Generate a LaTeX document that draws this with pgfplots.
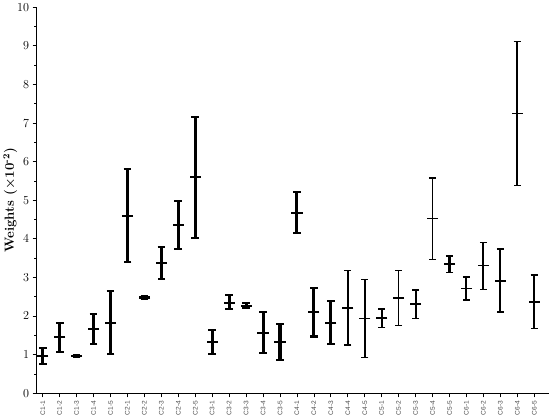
\documentclass[border=0pt]{standalone}
\usepackage{fontspec}
\setsansfont{Liberation Sans}
\usepackage{pgfplots}
\usepackage{pgfplotstable}
\pgfplotsset{compat=1.18}

% x = category index, y = centre, lo/hi = ends of the bar
\pgfplotstableread{
x y lo hi
0 0.97 0.75 1.18
1 1.45 1.08 1.82
2 0.96 0.93 0.99
3 1.66 1.27 2.05
4 1.83 1.02 2.65
5 4.60 3.40 5.80
6 2.48 2.45 2.52
7 3.37 2.95 3.80
8 4.37 3.74 4.99
9 5.60 4.03 7.15
10 1.33 1.02 1.64
11 2.35 2.17 2.55
12 2.27 2.20 2.33
13 1.57 1.03 2.11
14 1.33 0.85 1.80
15 4.68 4.15 5.21
16 2.10 1.47 2.72
17 1.83 1.27 2.39
}\thickdata

\pgfplotstableread{
x y lo hi
22 2.31 1.94 2.67
24 3.35 3.13 3.56
25 2.71 2.41 3.01
26 3.31 2.69 3.91
27 2.90 2.10 3.73
29 2.37 1.68 3.06
}\middata

\pgfplotstableread{
x y lo hi
18 2.21 1.25 3.18
19 1.94 0.93 2.95
20 1.95 1.71 2.18
21 2.47 1.75 3.18
23 4.52 3.46 5.58
28 7.25 5.38 9.12
}\thindata

\begin{document}
\begin{tikzpicture}
\begin{axis}[
  scale only axis,
  width=505pt, height=380pt,
  xmin=-0.36, xmax=29.9,
  ymin=0, ymax=10,
  axis lines=left,
  axis line style={line width=1pt, -},
  ytick={0,...,10},
  minor y tick num=1,
  xtick={0,...,29},
  xticklabels={C1-1,C1-2,C1-3,C1-4,C1-5,C2-1,C2-2,C2-3,C2-4,C2-5,
    C3-1,C3-2,C3-3,C3-4,C3-5,C4-1,C4-2,C4-3,C4-4,C4-5,
    C5-1,C5-2,C5-3,C5-4,C5-5,C6-1,C6-2,C6-3,C6-4,C6-5},
  x tick label style={rotate=90, anchor=east, font=\sffamily\fontsize{6.5}{7}\selectfont, text=black!70},
  y tick label style={font=\fontsize{12}{13}\selectfont},
  tick align=outside,
  major tick length=4pt, minor tick length=2.5pt,
  tick style={black, line width=0.8pt},
  ylabel={\textbf{Weights (×10\textsuperscript{-2})}},
  ylabel style={font=\fontsize{13}{15}\selectfont},
  ylabel shift=-7pt,
  error bars/error mark=-,
]
\addplot[only marks, mark=-, mark size=5.5pt, line width=2pt,
  error bars/.cd, y dir=both, y explicit,
  error mark options={rotate=90, mark size=3.8pt, line width=2pt},
  error bar style={line width=3pt}]
  table[x=x, y=y, y error plus expr=\thisrow{hi}-\thisrow{y},
        y error minus expr=\thisrow{y}-\thisrow{lo}] {\thickdata};
\addplot[only marks, mark=-, mark size=5.5pt, line width=1.6pt,
  error bars/.cd, y dir=both, y explicit,
  error mark options={rotate=90, mark size=3.5pt, line width=1.6pt},
  error bar style={line width=2pt}]
  table[x=x, y=y, y error plus expr=\thisrow{hi}-\thisrow{y},
        y error minus expr=\thisrow{y}-\thisrow{lo}] {\middata};
\addplot[only marks, mark=-, mark size=5.5pt, line width=1.4pt,
  error bars/.cd, y dir=both, y explicit,
  error mark options={rotate=90, mark size=3.5pt, line width=1.4pt},
  error bar style={line width=1.6pt}]
  table[x=x, y=y, y error plus expr=\thisrow{hi}-\thisrow{y},
        y error minus expr=\thisrow{y}-\thisrow{lo}] {\thindata};
\end{axis}
\end{tikzpicture}
\end{document}
